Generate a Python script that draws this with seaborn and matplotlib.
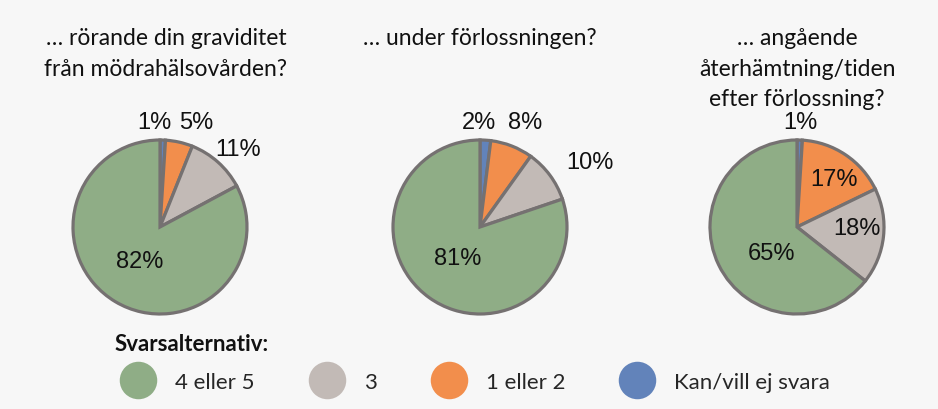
import numpy as np
import matplotlib.pyplot as plt
import seaborn as sns
from matplotlib.lines import Line2D

# Data
categories = ['Kan/vill ej svara', '1 eller 2', '3', '4 eller 5']
graviditet = [1, 5, 11, 82]
forlossning = [2, 8, 10, 81]
efter = [1, 17, 18, 65]
titles = ['… rörande din graviditet\nfrån mödrahälsovården?',
          '… under förlossningen?',
          '… angående\nåterhämtning/tiden\nefter förlossning?']
legend_order = ['4 eller 5', '3', '1 eller 2', 'Kan/vill ej svara']

sns.set_theme(style='white')
plt.rcParams['font.family'] = ['Lato', 'DejaVu Sans']

colors = {'Kan/vill ej svara': '#6283ba', '1 eller 2': '#f28e4c',
          '3': '#c2bab6', '4 eller 5': '#8fad86'}
bg = '#f7f7f7'
W, H = 938, 410
fig = plt.figure(figsize=(W / 100, H / 100), dpi=100, facecolor=bg)

# label placement: distance (fraction of radius) and angle shift (deg), per slice, per pie
label_r = [[1.21, 1.28, 1.27, 0.46],
           [1.21, 1.32, 1.47, 0.44],
           [1.21, 0.70, 0.69, 0.42]]
label_shift = [[5, -6, -3, 0],
               [4, -2, -6, 0],
               [0, -4, 5, 20]]
centers = [160, 480, 797]
title_x = [166, 480, 797]
R = 87
half = 1.5 * R

for i, vals in enumerate([graviditet, forlossning, efter]):
    ax = fig.add_axes([(centers[i] - half) / W, (H - 228 - half) / H, 2 * half / W, 2 * half / H])
    wedges, _ = ax.pie(vals, colors=[colors[c] for c in categories], startangle=90,
                       counterclock=False, radius=1,
                       wedgeprops=dict(edgecolor='#757171', linewidth=2.3))
    for w, v, r, s in zip(wedges, vals, label_r[i], label_shift[i]):
        ang = np.deg2rad((w.theta1 + w.theta2) / 2 + s)
        ax.text(r * np.cos(ang), r * np.sin(ang), f'{v}%', ha='center', va='center',
                fontsize=17, family=['Liberation Sans', 'DejaVu Sans'], color='#111111')
    ax.set_xlim(-1.5, 1.5)
    ax.set_ylim(-1.5, 1.5)
    ax.set_aspect('equal')
    ax.axis('off')
    fig.text(title_x[i] / W, 1 - 28 / H, titles[i], ha='center', va='top',
             fontsize=16.5, linespacing=1.56, color='#111111')

fig.text(115 / W, 1 - 345 / H, 'Svarsalternativ:', ha='left', va='center',
         fontsize=16, fontweight='bold', color='#111111')
handles = [Line2D([], [], marker='o', linestyle='none', markersize=27,
                  markerfacecolor=colors[c], markeredgecolor='none') for c in legend_order]
leg = fig.legend(handles, legend_order, ncol=4, loc='center left',
                 bbox_to_anchor=(116 / W, 1 - 383 / H), frameon=False,
                 fontsize=16, handlelength=2.0, handletextpad=0.66,
                 columnspacing=2.25, borderpad=0, borderaxespad=0)

fig.savefig('out.png', dpi=100, facecolor=bg)
